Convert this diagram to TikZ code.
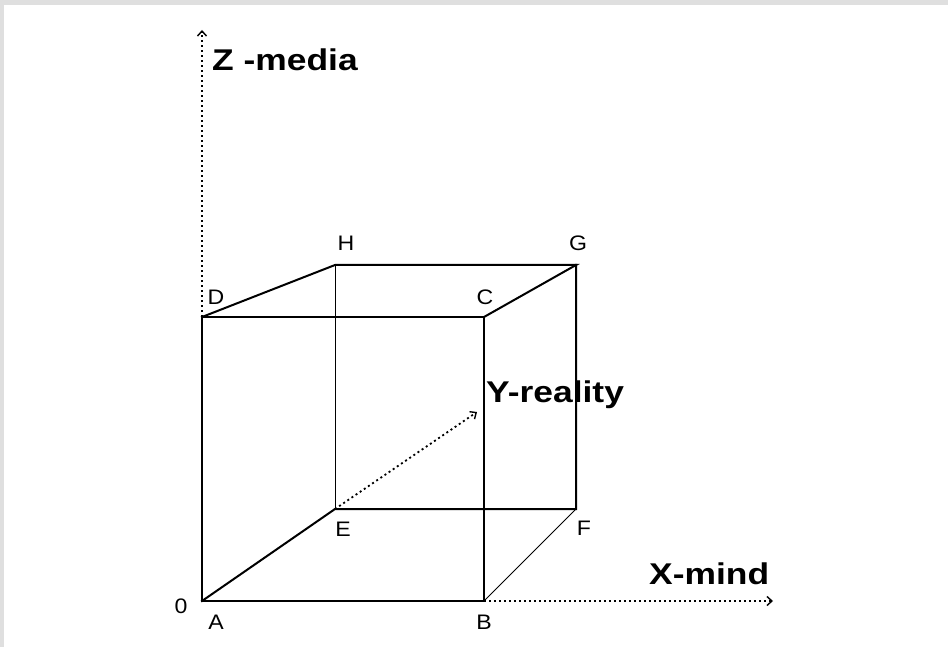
\documentclass[tikz,border=0pt]{standalone}
\usepackage{fontspec}
\usepackage{tikz}
\usetikzlibrary{arrows.meta,positioning,calc}
\newfontfamily\axisfont[FakeStretch=1.18]{Liberation Sans}
\newfontfamily\cornerfont[FakeStretch=1.1]{Liberation Sans}

\begin{document}
\begin{tikzpicture}[x=1pt, y=-1pt, every node/.style={inner sep=0pt},
  edge/.style={line width=2pt, line cap=rect},
  hidden/.style={line width=1pt},
  axis/.style={line width=1.8pt, dash pattern=on 2pt off 3pt, -{Straight Barb[length=5pt,width=9pt,line width=1.4pt]}},
  corner/.style={font=\cornerfont\fontsize{21}{21}\selectfont},
  axislabel/.style={font=\axisfont\bfseries\fontsize{30}{30}\selectfont, anchor=west}]
% frame
\fill[gray!25] (0,0) rectangle (948,647);
\fill[white] (4,5) rectangle (948,647);
\useasboundingbox (0,0) rectangle (948,647);
% cube corners
\coordinate (A) at (202,601);
\coordinate (B) at (484,601);
\coordinate (C) at (484,317);
\coordinate (D) at (202,317);
\coordinate (E) at (335,509);
\coordinate (F) at (576,509);
\coordinate (G) at (576,265);
\coordinate (H) at (335,265);
% axis ends
\coordinate (zend) at (202,30);
\coordinate (xend) at (773,601);
\coordinate (yend) at (477,412);
% axes
\draw[axis] (D) -- (zend);
\draw[axis] (B) -- (xend);
\draw[axis] (E) -- (yend);
% edges
\draw[hidden] (H) -- (E);
\draw[edge] (A) -- (B) -- (C) -- (D) -- cycle;
\draw[edge] (D) -- (H) -- (G) -- (C);
\draw[edge] (G) -- (F) -- (E) -- (A);
\draw[hidden] (B) -- (F);
% labels
\node[corner] (lo) at (181,606) {0};
\node[corner] (la) at (216,622) {A};
\node[corner] (lb) at (484,622) {B};
\node[corner] (lc) at (485,297) {C};
\node[corner] (ld) at (216,297) {D};
\node[corner] (le) at (343,529) {E};
\node[corner] (lf) at (584,528) {F};
\node[corner] (lg) at (578,243) {G};
\node[corner] (lh) at (346,243) {H};
\node[axislabel] (zlab) at (212,60) {Z -media};
\node[axislabel] (ylab) at (486,395) {Y-reality};
\node[axislabel] (xlab) at (649,574) {X-mind};
\end{tikzpicture}
\end{document}
